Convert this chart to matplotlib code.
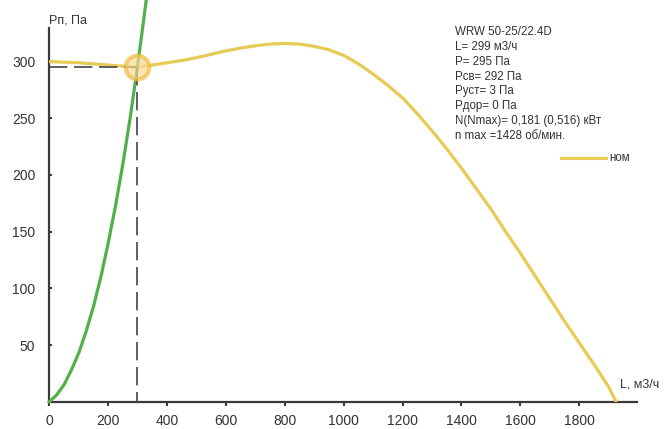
import matplotlib
matplotlib.use('Agg')
import matplotlib.pyplot as plt
from matplotlib.lines import Line2D

plt.rcParams['font.family'] = ['Liberation Sans Narrow', 'Liberation Sans', 'DejaVu Sans']

# fan curve (ном)
fan_L = [0, 50, 100, 150, 200, 250, 299, 350, 400, 450, 500, 550, 600, 650,
         700, 750, 800, 850, 900, 950, 1000, 1050, 1100, 1150, 1200, 1250,
         1300, 1350, 1400, 1450, 1500, 1550, 1600, 1650, 1700, 1750, 1800,
         1850, 1900, 1925]
fan_P = [300, 299.5, 299, 298, 297, 296, 295, 297, 299, 301, 303.5, 306.5,
         309.5, 312, 314, 315.5, 316, 315.5, 313.5, 310.5, 305.5, 298, 289,
         279, 268, 254, 239, 223, 206, 188, 170, 150, 131, 111, 91, 71, 52,
         33, 13, 0]

# network curve
net_L = [0, 25, 50, 75, 100, 125, 150, 175, 200, 225, 250, 275, 299, 315, 330]
net_P = [0, 6, 15, 28, 43, 62, 84, 110, 140, 173, 210, 251, 295, 326, 356]

op_L, op_P = 299, 295

x_ticks = [0, 200, 400, 600, 800, 1000, 1200, 1400, 1600, 1800]
y_ticks = [50, 100, 150, 200, 250, 300]

info_lines = [
    "WRW 50-25/22.4D",
    "L= 299 м3/ч",
    "P= 295 Па",
    "Pсв= 292 Па",
    "Pуст= 3 Па",
    "Pдор= 0 Па",
    "N(Nmax)= 0,181 (0,516) кВт",
    "n max =1428 об/мин.",
]

fig = plt.figure(figsize=(6.72, 4.29), dpi=100)
ax = fig.add_axes([0.0734, 0.0636, 0.874, 0.872])
ax.set_xlim(0, 1995)
ax.set_ylim(0, 330)

yellow = '#e6cb55'
green = '#52b04a'
axis_col = '#3a3a3a'

ax.plot(fan_L, fan_P, color=yellow, lw=2.3, solid_capstyle='round',
        solid_joinstyle='round', zorder=3)
ax.plot(net_L, net_P, color=green, lw=2.3, solid_joinstyle='round',
        clip_on=False, zorder=4)

# dashed guides to the working point
ax.plot([0, op_L], [op_P, op_P], color='#444444', lw=1.2, dashes=(11, 4), zorder=5)
ax.plot([op_L, op_L], [op_P, 0], color='#444444', lw=1.2, dashes=(11, 4), zorder=5)
ax.plot([op_L], [op_P], 'o', ms=17, mfc='#f9dc94', mec='#f2bc45', mew=3,
        alpha=0.7, zorder=6)

for s in ['top', 'right']:
    ax.spines[s].set_visible(False)
for s in ['left', 'bottom']:
    ax.spines[s].set_color(axis_col)
    ax.spines[s].set_linewidth(1.6)

ax.set_xticks(x_ticks)
ax.set_yticks(y_ticks)
ax.tick_params(axis='x', length=3, width=1.5, colors=axis_col, labelsize=10,
               pad=6, labelcolor='#333333')
ax.tick_params(axis='y', length=2, width=1.5, colors=axis_col, labelsize=10,
               pad=10, direction='in', labelcolor='#333333')

fig.text(0.073, 0.952, "Pп, Па", fontsize=9, color='#333333', ha='left', va='center')
fig.text(0.922, 0.103, "L, м3/ч", fontsize=9, color='#333333', ha='left', va='center')

y0 = 0.925
for i, line in enumerate(info_lines):
    fig.text(0.677, y0 - i * 0.0345, line, fontsize=8.3, color='#333333',
             ha='left', va='center')

fig.add_artist(Line2D([0.835, 0.902], [0.632, 0.632], color=yellow, lw=2.3,
                      transform=fig.transFigure))
fig.text(0.907, 0.632, "ном", fontsize=8.3, color='#333333', ha='left', va='center')

fig.savefig('out.png', dpi=100)
